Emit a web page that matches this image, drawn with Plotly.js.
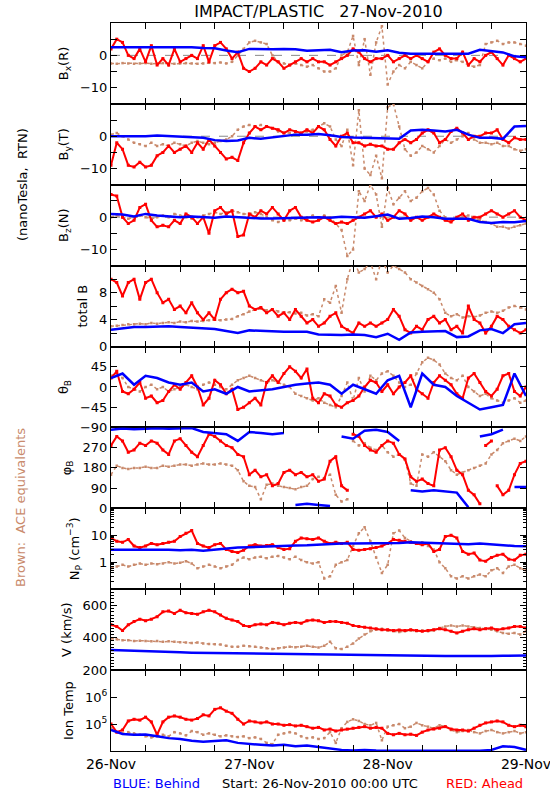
<!DOCTYPE html>
<html>
<head>
<meta charset="utf-8">
<script src="https://cdn.plot.ly/plotly-3.0.1.min.js"></script>
<style>html,body{margin:0;padding:0;background:#fff;}#chart{width:550px;height:800px;}</style>
</head>
<body>
<div id="chart"></div>
<script>
// ---------------- DATA ----------------
// Red/brown sampled hourly (73 values, 26-Nov 00:00 .. 29-Nov 00:00); blue every 2 hours (37 values)
const startDate = '2010-11-26 00:00:00';
const endDate = '2010-11-29 00:00:00';

const bxRed = [2,5,4,0,-1,2,-2,3,-3,-1, -3,2,-2,-1,0,-1,3,-2,3,4, 2,-1,1,-4,-5,-4,-2,-3,-1,-2, -4,-3,-2,-1,-2,-1,-2,-2,-3,-2, -1,0,2,1,-1,-2,-1,-1,0,-2, -1,0,-1,0,-1,-2,1,2,0,-1, -1,1,-3,-1,-2,0,1,-1,-3,0, -1,-2,-1];
const bxBlue = [2.5,2.5,2.6,2.6,2.5,2.5,2.6,2.5,2.3,2.2, 1.5,1.0,2.0,1.9,1.9,2.0,1.9,1.4,1.6,1.7, 1.0,1.5,1.6,1.1,1.6,0.8,0.5,0.5,0.6,0.4, 0.5,0.5,1.7,1.2,0.9,-0.3,-0.6];
const bxBrown = [-2.5,-2.6,-2.4,-2.5,-2.6,-2.5,-2.4,-2.6,-2.5,-2.4, -2.5,-2.6,-2.5,-2.4,-2.5,-2.6,-2.5,-2.3,-2.4,-2.2, -2.5,-2,0,2,4,4.5,4,3.5,0,-2, -2.5,-3,-2.5,-3,-3.5,-3,-4,-5,-5,-4, 0,1,6,-3,5,-6,4,9,-9,-5, -3,-4,-2,-3,-4,-2,-1,-1.5,-1,-2, -1.5,-2,-3,-3.5,-3,3.5,4,4.5,3.5,4, 4,3.5,3];

const byRed = [-9,-2,-4,-9,-9.5,-8,-9.5,-9,-6,-5, -3,-5,-4,-3,-5,-2,-4,-1,-3,-5, -7,-6.5,-7.5,-2,1,3,2,3,2.5,2, 1,2,1.5,1,2,1,3,2,-1,-3, 0,1,-2,-2,-3,-2.5,-3,-3,-4,-4, -2,-1,-2,-1,1,2,1,-2,-1,1.5, 2.5,1,-1,0,0,1,1,2,-1,-2, -0.5,-1,-1];
const byBlue = [0,0,-0.2,0,0.2,0,-0.3,-0.5,-0.5,-1.2, -1.5,-1.3,-0.5,-0.8,-0.3,0.2,0.5,0.5,0.7,0.3, -0.2,-0.4,-0.5,-0.5,-0.6,-0.8,1.8,2,1.8,1.5, 2,0.5,-0.5,-0.5,-0.8,3,3.2];
const byBrown = [0.5,1,0,-1,-2,-2.5,-3,-2,-3,-2.5, -3,-2,-2.5,-3,-2,-1.5,-2,-2.5,-2,-1.5, -1,0,2,3,3.5,3,3.5,3,2.5,1.5, 1,1,0.5,1,1.5,2,3,4,3,-1, -3,2,-9,8,-10,-12,-6,-13,9,10, 3,-4,-6,-5,-3,-4,-5,-3,-1,-2, -1,0,1,-1,-2,-2,-2.5,-2,-3,-3, -4,-4.5,-4];

const bzRed = [7,6.5,0,-2,-1,3,4,-1,-3,-2.5, -3,-1,-2,1,0,-2,0,-5,2,3, 1,2,-6,-5.5,1,0,2,1,3,1, -1,2,3,0,-1,-1.5,-1,0,-1,-2, -1.5,-2,-1,0,1,2,0,1,-1,0, 2,1,-1,0,-1,0,1,0,-1,-1.5, 0,1,-1,0,0,1,2,1,0,1, 2,0,-1];
const bzBlue = [1,0.8,0.2,1,0.5,0.3,0,0.2,0,-0.2, 0.2,0,-0.3,-0.4,-0.4,-0.3,-0.2,0,0,-0.2, 0.1,0,-0.2,0.3,0.8,-0.5,-0.3,0.2,0,-0.5, -0.6,-0.5,-1.5,-1.8,-1.5,-1.6,-1.2];
const bzBrown = [0,0.5,0,-0.5,0,0.5,0,-0.5,0,0.5, 0,1,0.5,0,-0.5,0,0.5,1,1.5,1, 1.5,2,1.5,1,1,1.5,1,0,-1,-1.5, -1,-1,-0.5,-1,0,0.5,0,0.5,0,-2, -4,-12,-10,8,5,10,7,-3,9,4, 6,8,5,6,8,9,7,2,0,-1, -0.5,0,0.5,0,-1,-1.5,-2,-3,-3,-3.5, -3,-2.5,-2];

const btRed = [10,9.5,7.5,9.5,10,7,9.5,10,8,6.5, 7,5.5,6,5,6.5,5,4,5,4,7, 8,8.5,8,8.2,6,5.5,5.8,5,5.5,4.5, 5,4,5.5,4.5,3.5,4,3,3.5,4.5,5, 3,2.5,2,3.5,3,3.5,3,3.5,4,5.5, 4.5,2.5,2,3,2.5,4,4.5,3.5,4,2.5, 3,2,6,4,3.5,2,3,4.5,4,3, 2.5,2,2.5];
const btBlue = [2.5,2.7,2.9,2.9,3,3,2.9,2.8,2.7,2.6, 2.3,2,2.4,2.3,2.3,2.2,2.2,2.2,1.8,1.7, 1.7,1.8,1.7,1.4,1.9,1.0,2.1,2.2,2.3,2.3, 1.4,1.5,2.4,2.6,2.0,3.3,3.5];
const btBrown = [3,3.1,3.2,3.3,3.3,3.4,3.3,3.5,3.4,3.5, 3.6,3.5,3.7,3.6,3.8,3.7,3.8,3.9,4,3.9, 4,4.1,4.5,4.8,5.2,5.5,5.6,5.4,5.5,5.2, 5,5.1,4.9,5,4.6,4.8,4.5,7,6.5,9, 5,10,13,11,11.5,12.5,10,13,11,12, 11.5,11,10,9.5,9,8.5,8,7,5,4.5, 4.8,4.3,4.5,4.4,4.6,5,5.2,5,5.3,5.8, 6,5.8,5.5];

const thRed = [20,35,-10,-15,-5,10,-25,-20,-35,-30, -10,5,-5,10,25,0,-40,-25,15,5, -15,-5,-50,-45,-35,-25,-40,10,25,10, 30,45,35,20,40,-25,-35,-15,-20,-40, -45,-35,-30,-20,0,15,10,-10,5,-15, 0,10,25,-5,-15,-25,10,25,15,5, -15,-25,20,30,10,-10,-20,-5,25,30, -10,-20,0];
const thBlue = [20,30,5,25,20,10,5,10,-10,-5, -15,0,-10,-8,-5,0,5,8,10,5, -15,5,-5,-15,15,25,-45,30,5,0, -20,-35,-50,-45,-40,30,-20];
const thBrown = [25,30,20,0,-5,-10,0,5,-5,0, -10,-5,0,5,0,-5,5,10,5,0, -5,5,15,20,25,20,15,10,15,10, 5,0,-15,-20,-25,-30,-25,-35,-40,-45, -20,10,-30,20,-10,25,15,30,35,25, 10,0,5,30,55,65,60,50,30,20, 15,25,0,-10,-20,-15,-25,-30,-35,-30, -25,-35,-30];

const phRed = [280,320,300,250,260,290,280,300,290,260, 240,300,310,280,250,230,280,330,320,300, 280,270,240,230,150,170,140,150,100,110, 160,170,150,160,140,150,120,130,210,230, 100,80,330,320,280,260,250,280,300,290, 240,220,140,120,130,110,100,260,270,230, 170,150,80,60,20,280,300,100,60,80, 150,200,210];
const phBlue = [350,355,352,355,356,354,355,357,340,335, 330,300,340,335,330,335,15,20,15,10, 320,310,345,350,340,300,80,75,80,75, 70,5,320,330,350,95,95];
const phBrown = [150,190,180,175,180,180,185,180,180,190, 185,190,195,195,190,195,200,195,195,200, 195,190,170,120,100,95,40,105,110,100, 95,90,85,95,100,130,140,135,150,60, 30,40,300,280,290,270,260,280,250,230, 240,220,110,100,240,230,250,230,210,170, 150,160,170,180,190,200,240,260,290,300, 310,300,320];

const npRed = [8,6,5.5,7,4,3.5,4,5,4.5,5, 5.5,6,9,12,15,5,4,3.5,4.5,5, 3,2.5,2.3,2.8,4,4.5,4,4.2,4.5,3.5, 3,3.2,6,8,7.5,7,8,6,5,5.5, 5,5.5,3,2.8,3,3.2,3.5,4,5,7, 6.5,6,5.5,5,4.5,5,2.5,3,9,10, 8,2.5,2,2.2,1.2,1.1,1.5,1.8,2,1.3, 1.2,1.8,2];
const npBlue = [2.9,2.9,3,3,3,2.9,2.8,2.9,2.7,3, 3.3,3.5,3.6,3.8,4,4,4.2,4.3,4.6,4.8, 5,5,5,4.9,5,5.2,5.5,5.4,5.3,5.2, 4.8,4.7,5,4.6,4.2,4,3.9];
const npBrown = [0.6,0.7,0.8,0.7,0.8,0.9,0.8,0.9,0.85,0.9, 1,0.9,0.95,1.1,0.9,0.6,0.7,0.8,0.7,0.6, 0.7,0.8,1.2,1.5,1.3,1.5,1.6,1.4,1.6,1.7, 1.5,1.3,1.6,1.2,1,0.9,1,0.25,0.3,0.8, 1,1.2,4,12,20,6,1.5,0.4,0.8,12, 15,8,6,5,5.5,4,3,1,0.6,0.3, 0.25,0.3,0.25,0.3,0.35,0.3,0.5,0.6,0.4,0.7, 0.8,0.6,0.5];

const vRed = [480,470,445,480,500,515,505,515,530,560, 565,550,570,555,550,545,560,570,560,540, 520,510,500,475,470,480,485,480,495,490, 480,490,495,490,505,510,505,495,500,500, 495,490,475,470,465,460,455,450,450,445, 448,445,450,445,440,445,450,455,450,440, 430,440,450,455,450,455,460,450,455,460, 470,470,460];
const vBlue = [325,322,318,316,315,313,310,308,307,306, 305,303,300,300,298,298,297,297,296,295, 293,292,291,290,290,289,288,288,287,287, 287,286,287,287,288,290,291];
const vBrown = [395,390,385,385,380,382,380,378,380,375, 378,375,372,370,368,370,365,362,360,358, 350,345,345,350,348,345,340,335,330,335, 340,345,342,345,350,345,340,350,375,335, 330,345,365,395,420,440,450,455,445,440, 435,440,445,440,445,440,445,460,470,475, 470,475,470,465,460,455,450,440,430,425, 430,420,440];

const tRed = [1e5,5e4,6e4,1.3e5,1.5e5,1.4e5,1.8e5,1.2e5,4e4,1.2e5, 1.8e5,2e5,1.8e5,1.5e5,1.4e5,1.6e5,2.2e5,2e5,3.5e5,4e5, 3e5,2.5e5,1.5e5,1e5,1.3e5,1.2e5,1.1e5,1.2e5,1e5,1e5, 9e4,9.5e4,8.5e4,9e4,8e4,7e4,7.5e4,6e4,6.5e4,5.5e4, 6e4,6.5e4,7e4,7.5e4,8e4,7e4,7.5e4,7e4,4.5e4,4e4, 4.5e4,4e4,4.2e4,3.8e4,5e4,6e4,6.5e4,7e4,8e4,6.5e4, 6e4,6e4,5.5e4,7e4,9e4,1.1e5,1.2e5,1.3e5,1.2e5,9e4, 8e4,9e4,8e4];
const tBlue = [6e4,4.3e4,4e4,4.1e4,3.5e4,3e4,2.8e4,2.4e4,2.2e4,2.3e4, 2.5e4,2e4,1.8e4,1.7e4,1.6e4,1.7e4,1.5e4,1.6e4,1.4e4,1.25e4, 1.1e4,1.05e4,1.1e4,1.05e4,1.05e4,1.02e4,1.05e4,1.03e4,1.04e4,1.03e4, 1.02e4,1.05e4,1.03e4,1.1e4,1.5e4,1.4e4,1.1e4];
const tBrown = [7e4,5e4,4.5e4,5e4,4.5e4,4e4,3.5e4,3.2e4,3.5e4,4e4, 3.5e4,5e4,4.5e4,3.8e4,5.5e4,5e4,4e4,4.5e4,4e4,3.5e4, 3.8e4,3.5e4,3.3e4,3.5e4,3e4,3.2e4,2.8e4,2e4,1.8e4,4e4, 4.5e4,5e4,4.5e4,3.5e4,3e4,3.2e4,2.8e4,3e4,5e4,2e4, 7e4,1.2e5,1.5e5,1.3e5,1e5,9e4,1.1e5,2.5e4,8e4,9e4, 1e5,7e4,8e4,1.1e5,9e4,8e4,7e4,9e4,8e4,6e4, 5e4,5.5e4,6e4,5e4,4.5e4,5.5e4,6e4,5e4,4.5e4,5e4, 5.5e4,4.5e4,5e4];

// ---------------- BUILD ----------------
const RED = '#ff0000', BLUE = '#0000ff', BROWN = '#c98a6c';
const FONT = 'DejaVu Sans, sans-serif';
const t0 = Date.parse(startDate.replace(' ', 'T') + 'Z');
function timeGrid(n, stepHours) {
  const out = [];
  for (let i = 0; i < n; i++) out.push(new Date(t0 + i * stepHours * 3600000).toISOString().slice(0, 19).replace('T', ' '));
  return out;
}
function wrapGaps(xs, ys) { // do not join points across the 360/0 wrap
  const X = [], Y = [];
  for (let i = 0; i < ys.length; i++) {
    if (i > 0 && Math.abs(ys[i] - ys[i - 1]) > 180) { X.push(xs[i]); Y.push(null); }
    X.push(xs[i]); Y.push(ys[i]);
  }
  return {x: X, y: Y};
}

const panels = [
  {title: 'B<sub>x</sub>(R)', red: bxRed, blue: bxBlue, brown: bxBrown, range: [-15, 10], tv: [-10, 0], tt: ['\u221210', '0'], mv: [-5, 5], zero: true},
  {title: 'B<sub>y</sub>(T)', red: byRed, blue: byBlue, brown: byBrown, range: [-15, 10], tv: [-10, 0], tt: ['\u221210', '0'], mv: [-5, 5], zero: true},
  {title: 'B<sub>z</sub>(N)', red: bzRed, blue: bzBlue, brown: bzBrown, range: [-15, 10], tv: [-10, 0], tt: ['\u221210', '0'], mv: [-5, 5], zero: true},
  {title: 'total B', red: btRed, blue: btBlue, brown: btBrown, range: [0, 12], tv: [0, 4, 8], tt: ['0', '4', '8'], mv: [2, 6, 10]},
  {title: '\u03b8<sub>B</sub>', red: thRed, blue: thBlue, brown: thBrown, range: [-90, 90], tv: [-90, -45, 0, 45], tt: ['\u221290', '\u221245', '0', '45']},
  {title: '\u03c6<sub>B</sub>', red: phRed, blue: phBlue, brown: phBrown, range: [0, 360], tv: [0, 90, 180, 270], tt: ['0', '90', '180', '270'], wrap: true},
  {title: 'N<sub>P</sub> (cm<sup>\u22123</sup>)', red: npRed, blue: npBlue, brown: npBrown, log: true, range: [-1, 2], tv: [1, 10], tt: ['1', '10'],
    mv: [0.2,0.3,0.4,0.5,0.6,0.7,0.8,0.9,2,3,4,5,6,7,8,9,20,30,40,50,60,70,80,90], mlen: 3},
  {title: 'V (km/s)', red: vRed, blue: vBlue, brown: vBrown, range: [200, 700], tv: [200, 400, 600], tt: ['200', '400', '600'], mdt: 20},
  {title: 'Ion Temp', red: tRed, blue: tBlue, brown: tBrown, log: true, range: [4, 7], tv: [1e5, 1e6], tt: ['10<sup>5</sup>', '10<sup>6</sup>']}
];

const traces = [];
const layout = {
  width: 550, height: 800,
  paper_bgcolor: '#ffffff', plot_bgcolor: '#ffffff',
  margin: {l: 111, r: 24, t: 23, b: 49, pad: 0},
  showlegend: false,
  font: {family: FONT, size: 13, color: '#000'},
  title: {text: 'IMPACT/PLASTIC\u00a0\u00a0\u00a027-Nov-2010', x: 0.5, xref: 'paper', xanchor: 'center', y: 1 - 11 / 800, yref: 'container', yanchor: 'middle', font: {family: FONT, size: 16, color: '#000'}},
  shapes: [],
  annotations: []
};

const n = panels.length;
panels.forEach((p, i) => {
  const k = i + 1;
  const xa = k === 1 ? 'x' : 'x' + k;
  const ya = k === 1 ? 'y' : 'y' + k;
  const xName = k === 1 ? 'xaxis' : 'xaxis' + k;
  const yName = k === 1 ? 'yaxis' : 'yaxis' + k;
  const isBottom = k === n;

  const hx = timeGrid(p.red.length, 1);
  const bxT = timeGrid(p.blue.length, 2);
  const brownXY = p.wrap ? wrapGaps(hx, p.brown) : {x: hx, y: p.brown};
  const redXY = p.wrap ? wrapGaps(hx, p.red) : {x: hx, y: p.red};
  const blueXY = p.wrap ? wrapGaps(bxT, p.blue) : {x: bxT, y: p.blue};

  traces.push({x: brownXY.x, y: brownXY.y, xaxis: xa, yaxis: ya, type: 'scatter', mode: 'lines+markers', name: 'ACE',
    line: {color: BROWN, width: 1.5, dash: 'dot'}, marker: {color: BROWN, size: 2.5, symbol: 'square'}, connectgaps: false, hoverinfo: 'skip'});
  traces.push({x: redXY.x, y: redXY.y, xaxis: xa, yaxis: ya, type: 'scatter', mode: 'lines+markers', name: 'Ahead',
    line: {color: RED, width: 2}, marker: {color: RED, size: 3, symbol: 'square'}, connectgaps: false, hoverinfo: 'skip'});
  traces.push({x: blueXY.x, y: blueXY.y, xaxis: xa, yaxis: ya, type: 'scatter', mode: 'lines', name: 'Behind',
    line: {color: BLUE, width: 2.5}, connectgaps: false, hoverinfo: 'skip'});

  layout[xName] = {
    type: 'date', range: [startDate, endDate],
    anchor: ya, domain: [0, 1],
    tickmode: 'linear', tick0: startDate, dtick: 86400000, tickformat: '%d-%b',
    ticklabeloverflow: 'allow',
    showticklabels: isBottom, ticks: 'inside', ticklen: 6, tickwidth: 1, tickcolor: '#000',
    minor: {dtick: 21600000, tick0: startDate, ticks: 'inside', ticklen: 6, tickwidth: 1, tickcolor: '#000', showgrid: false},
    showline: true, linecolor: '#000', linewidth: 1, mirror: 'ticks',
    showgrid: false, zeroline: false,
    tickfont: {family: FONT, size: 14, color: '#000'}
  };
  if (k !== 1) layout[xName].matches = 'x';

  const top = 1 - i / n, bot = 1 - (i + 1) / n;
  const yax = {
    domain: [bot, top], anchor: xa,
    range: p.range, type: p.log ? 'log' : 'linear',
    tickmode: 'array', tickvals: p.tv, ticktext: p.tt,
    ticks: 'inside', ticklen: 6, tickwidth: 1, tickcolor: '#000',
    showline: true, linecolor: '#000', linewidth: 1, mirror: 'ticks',
    showgrid: false, zeroline: false,
    tickfont: {family: FONT, size: 13, color: '#000'},
    title: {text: p.title, font: {family: FONT, size: 13, color: '#000'}, standoff: 8}
  };
  if (p.mv) yax.minor = {tickmode: 'array', tickvals: p.mv, ticks: 'inside', ticklen: p.mlen || 6, tickwidth: 1, tickcolor: '#000', showgrid: false};
  if (p.mdt) yax.minor = {dtick: p.mdt, ticks: 'inside', ticklen: 3, tickwidth: 1, tickcolor: '#000', showgrid: false};
  layout[yName] = yax;

  if (p.zero) {
    layout.shapes.push({type: 'line', xref: xa + ' domain', x0: 0, x1: 1, yref: ya, y0: 0, y1: 0,
      line: {color: '#888888', width: 1, dash: 'dash'}, layer: 'below'});
  }
});

const plotW = 550 - 111 - 24, plotH = 800 - 23 - 49;
layout.annotations.push(
  {text: '(nanoTesla,\u00a0\u00a0RTN)', xref: 'paper', yref: 'paper', x: (22 - 111) / plotW, y: 1 - (185 - 23) / plotH,
    xanchor: 'center', yanchor: 'middle', textangle: -90, showarrow: false, font: {family: FONT, size: 13, color: '#000'}},
  {text: 'Brown:\u00a0\u00a0ACE\u00a0equivalents', xref: 'paper', yref: 'paper', x: (20 - 111) / plotW, y: 1 - (508 - 23) / plotH,
    xanchor: 'center', yanchor: 'middle', textangle: -90, showarrow: false, font: {family: FONT, size: 13, color: BROWN}},
  {text: 'BLUE:\u00a0Behind', xref: 'paper', yref: 'paper', x: 0, y: -(783 - 751) / plotH,
    xanchor: 'left', yanchor: 'middle', showarrow: false, font: {family: FONT, size: 13, color: BLUE}},
  {text: 'Start:\u00a026-Nov-2010\u00a000:00\u00a0UTC', xref: 'paper', yref: 'paper', x: (320 - 111) / plotW, y: -(783 - 751) / plotH,
    xanchor: 'center', yanchor: 'middle', showarrow: false, font: {family: FONT, size: 13, color: '#000'}},
  {text: 'RED:\u00a0Ahead', xref: 'paper', yref: 'paper', x: (525 - 111) / plotW, y: -(783 - 751) / plotH,
    xanchor: 'right', yanchor: 'middle', showarrow: false, font: {family: FONT, size: 13, color: RED}}
);

Plotly.newPlot('chart', traces, layout, {displayModeBar: false, staticPlot: true});
</script>
</body>
</html>
